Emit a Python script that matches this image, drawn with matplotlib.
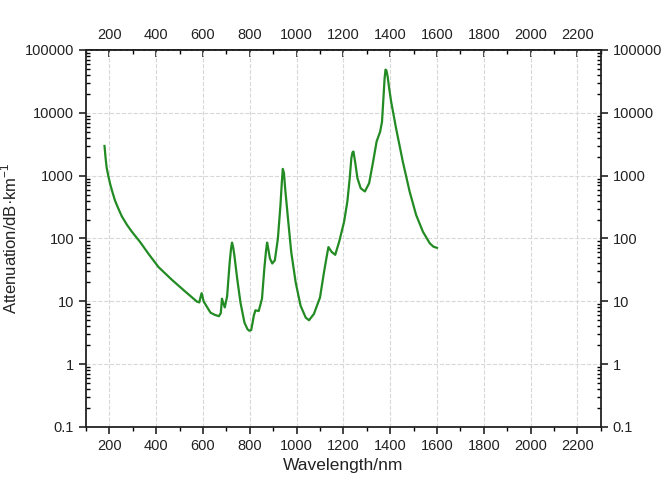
import numpy as np
import matplotlib.pyplot as plt
from matplotlib.ticker import LogLocator, MultipleLocator, NullFormatter

plt.rcParams['font.family'] = ['Liberation Sans', 'DejaVu Sans']

# valores (comprimento de onda em nm, atenuacao em dB/km)
wavelength = [179, 183, 188, 195, 203, 212, 224, 238, 253, 275, 296, 331, 367, 410, 467,
              524, 574, 584, 589, 594, 603, 632, 650, 668, 676, 681, 686, 693, 703, 714,
              720, 724, 729, 734, 746, 760, 777, 790, 798, 806, 812, 817, 824, 838, 852,
              862, 869, 874, 879, 886, 896, 907, 920, 931, 937, 941, 946, 951, 963, 977,
              996, 1017, 1039, 1053, 1074, 1100, 1117, 1128, 1136, 1150, 1165, 1182,
              1203, 1217, 1227, 1234, 1239, 1243, 1250, 1260, 1274, 1292, 1310, 1327,
              1342, 1357, 1365, 1372, 1376, 1380, 1384, 1389, 1396, 1404, 1425, 1454,
              1483, 1511, 1540, 1569, 1585, 1600]
attenuation = [2970, 2000, 1350, 1000, 740, 560, 400, 300, 225, 165, 128, 88, 57, 35, 22,
               14.3, 9.9, 9.6, 11.5, 13.5, 9.9, 6.6, 6.1, 5.8, 6.5, 11, 9.5, 8, 12, 42,
               70, 86, 72, 54, 23, 9.6, 4.6, 3.6, 3.4, 3.5, 4.6, 5.9, 7.2, 7, 11,
               33, 62, 86, 68, 48, 40, 45, 100, 340, 800, 1280, 1100, 630, 210, 61,
               20, 8.5, 5.5, 5.0, 6.3, 11.5, 29, 50, 73, 61, 55, 89,
               185, 390, 910, 1900, 2350, 2420, 1670, 910, 630, 560, 760, 1670,
               3500, 5000, 7200, 19400, 35000, 48700, 47000, 38000, 24000, 15100, 5700, 1670,
               560, 236, 128, 84, 74, 71]

x_ticks = [200, 400, 600, 800, 1000, 1200, 1400, 1600, 1800, 2000, 2200]
y_ticks = [0.1, 1, 10, 100, 1000, 10000, 100000]
y_labels = ['0.1', '1', '10', '100', '1000', '10000', '100000']

fig = plt.figure(figsize=(6.69, 4.95), dpi=100)
ax = fig.add_axes([0.1286, 0.1374, 0.7694, 0.7616])

ax.plot(wavelength, attenuation, color='#238b23', lw=1.6)
ax.set_yscale('log')
ax.set_xlim(100, 2300)
ax.set_ylim(0.1, 100000)

ax.set_xticks(x_ticks)
ax.xaxis.set_minor_locator(MultipleLocator(100))
ax.set_yticks(y_ticks)
ax.set_yticklabels(y_labels)
ax.yaxis.set_minor_locator(LogLocator(base=10, subs=np.arange(2, 10), numticks=20))
ax.yaxis.set_minor_formatter(NullFormatter())

ax.grid(True, which='major', color='#d8d8d8', ls='--', lw=0.8)

# eixo y: principais para fora, secundarios para dentro
ax.tick_params(axis='y', which='major', direction='out', length=5, width=1.2, labelsize=10.5,
               left=True, right=True, labelleft=True, labelright=True, colors='#222222')
ax.tick_params(axis='y', which='minor', direction='in', length=3, width=1, left=True, right=True)
# eixo x: embaixo para fora, em cima para dentro
ax.tick_params(axis='x', which='major', direction='out', length=5, width=1.2, labelsize=10.5,
               colors='#222222', top=False)
ax.tick_params(axis='x', which='minor', direction='out', length=3, width=1, top=False)

top = ax.secondary_xaxis('top')
top.set_xticks(x_ticks)
top.xaxis.set_minor_locator(MultipleLocator(100))
top.tick_params(which='major', direction='in', length=5, width=1.2, labelsize=10.5,
                colors='#222222', pad=6)
top.tick_params(which='minor', direction='in', length=3, width=1)
top.spines['top'].set_linewidth(1.3)

for s in ax.spines.values():
    s.set_linewidth(1.3)
    s.set_color('#222222')

ax.set_xlabel('Wavelength/nm', fontsize=12.5, color='#222222')
ax.set_ylabel('Attenuation/dB·km$^{\\mathregular{-1}}$', fontsize=12, color='#222222')
ax.yaxis.set_label_coords(-0.13, 0.5)

fig.savefig('out.png', dpi=100)
